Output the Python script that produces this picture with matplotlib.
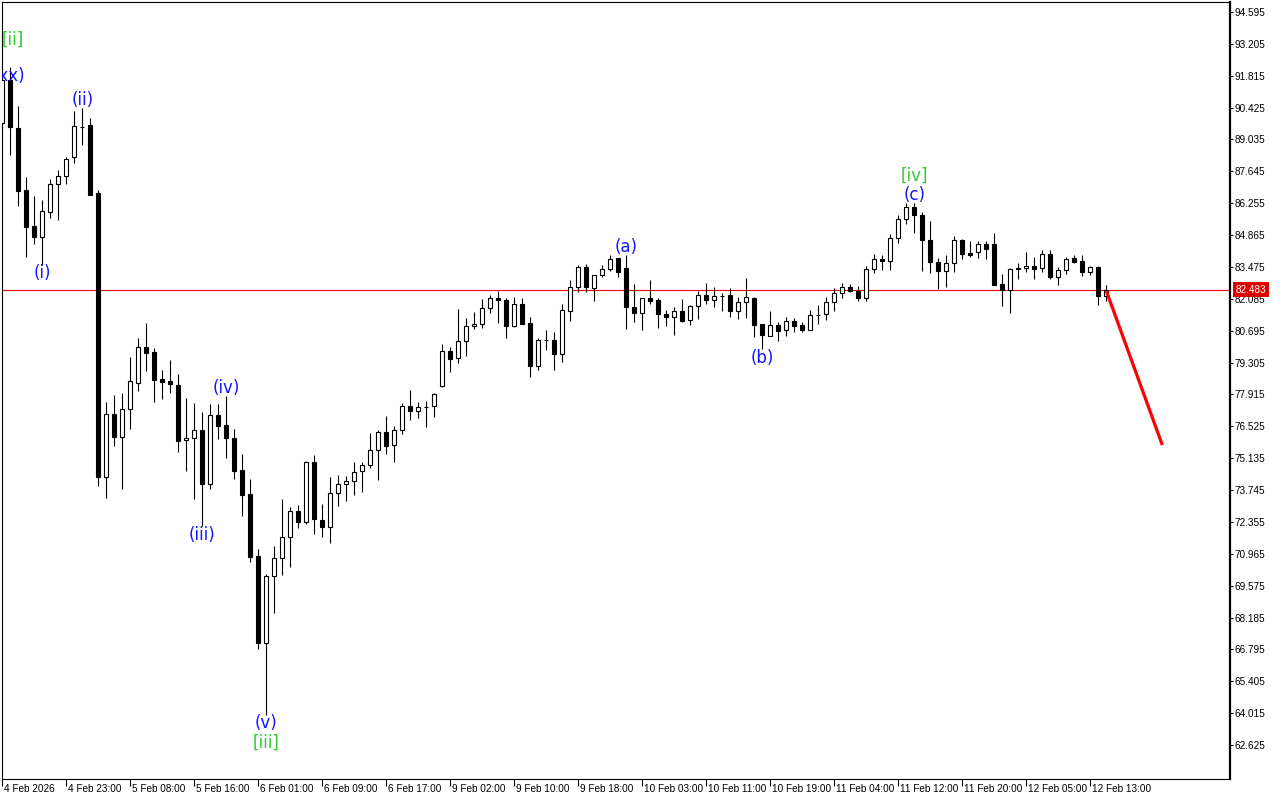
import matplotlib
matplotlib.use('Agg')
import matplotlib.pyplot as plt
from matplotlib import font_manager
from matplotlib.transforms import ScaledTranslation
import numpy as np

# ---------------- data (hourly bars) ----------------
opens = [89.75, 91.63, 89.54, 86.83, 85.26, 84.78, 85.87, 87.09, 87.44, 88.27,
         89.58, 89.67, 86.70, 74.32, 77.06, 76.06, 77.28, 78.41, 79.99, 79.77,
         78.59, 78.50, 78.33, 75.93, 76.02, 76.37, 74.01, 77.02, 76.58, 76.02,
         74.62, 73.58, 70.87, 67.08, 70.00, 70.78, 71.70, 72.83, 72.35, 74.97,
         72.44, 72.14, 73.62, 74.01, 74.14, 74.58, 74.84, 75.49, 76.28, 75.71,
         76.37, 77.41, 77.19, 77.37, 77.41, 78.28, 79.81, 79.50, 80.25, 80.90,
         80.99, 81.69, 82.12, 82.04, 80.90, 81.86, 81.03, 79.16, 80.29, 80.29,
         79.68, 81.55, 82.60, 83.47, 82.56, 83.13, 83.39, 83.87, 83.43, 81.73,
         81.47, 82.12, 82.04, 81.42, 81.29, 81.55, 81.16, 81.77, 82.25, 82.04,
         82.21, 82.25, 81.55, 81.95, 82.12, 80.99, 80.47, 80.94, 80.73, 81.12,
         80.94, 80.73, 81.38, 81.42, 81.95, 82.34, 82.60, 82.43, 82.12, 83.39,
         83.82, 83.73, 84.74, 85.57, 86.09, 85.74, 84.65, 83.69, 83.30, 83.65,
         84.65, 84.08, 84.13, 84.48, 84.48, 82.73, 82.47, 83.43, 83.43, 83.52,
         83.43, 84.04, 83.04, 83.34, 83.87, 83.73, 83.26, 83.47, 82.21]
highs = [91.98, 92.20, 90.50, 87.40, 86.57, 86.40, 87.31, 87.70, 88.27, 90.28,
         90.41, 89.97, 86.83, 77.59, 77.89, 77.98, 79.55, 80.38, 81.03, 79.94,
         78.99, 79.42, 78.81, 77.76, 77.54, 77.15, 77.50, 77.50, 77.85, 76.41,
         75.32, 74.23, 71.18, 70.09, 71.31, 73.36, 73.01, 73.10, 75.01, 75.28,
         73.14, 74.32, 74.40, 74.36, 74.97, 74.97, 76.23, 76.37, 76.98, 76.54,
         77.54, 78.11, 77.59, 77.63, 77.98, 80.12, 79.99, 81.64, 81.25, 81.51,
         82.08, 82.25, 82.43, 82.12, 82.17, 82.12, 81.29, 80.38, 80.73, 80.64,
         81.86, 82.91, 83.56, 83.60, 83.13, 83.56, 83.99, 83.87, 83.99, 82.73,
         82.12, 82.91, 82.12, 81.60, 81.73, 82.08, 81.82, 82.43, 82.78, 82.60,
         82.34, 82.56, 82.17, 82.99, 82.17, 80.99, 81.55, 81.07, 81.29, 81.25,
         81.07, 81.60, 81.82, 82.17, 82.56, 82.78, 82.73, 82.65, 83.52, 84.04,
         83.99, 84.91, 85.74, 86.27, 86.27, 85.87, 85.48, 83.87, 83.99, 84.83,
         84.70, 84.61, 84.61, 84.61, 84.96, 83.17, 83.43, 83.65, 84.13, 83.91,
         84.22, 84.22, 83.47, 83.91, 83.99, 83.99, 83.52, 83.52, 82.69]
lows = [89.45, 88.36, 86.13, 83.91, 84.48, 83.56, 85.61, 85.52, 87.09, 88.01,
        88.79, 86.61, 73.92, 73.40, 75.67, 73.79, 76.41, 78.07, 78.94, 77.59,
        77.72, 77.98, 75.41, 74.58, 73.36, 72.18, 73.79, 75.97, 75.14, 74.23,
        72.62, 70.61, 66.81, 63.94, 68.38, 70.04, 70.39, 72.09, 72.27, 71.83,
        71.70, 71.44, 73.05, 73.27, 73.53, 73.66, 74.71, 74.19, 75.32, 74.97,
        76.19, 76.80, 76.89, 76.50, 76.93, 78.24, 78.89, 79.29, 79.59, 80.77,
        80.81, 81.47, 81.03, 80.38, 80.86, 80.99, 78.68, 78.98, 79.85, 78.99,
        79.33, 81.12, 82.38, 82.38, 81.99, 83.04, 83.30, 83.04, 80.77, 81.07,
        80.73, 81.86, 80.81, 80.90, 80.51, 81.07, 80.94, 81.21, 81.86, 81.73,
        81.55, 81.29, 81.21, 81.25, 80.42, 79.90, 80.47, 80.25, 80.47, 80.64,
        80.64, 80.73, 80.99, 81.16, 81.55, 82.12, 82.38, 81.99, 81.99, 83.21,
        83.34, 83.34, 84.52, 85.35, 84.96, 83.30, 83.21, 82.51, 82.60, 83.26,
        83.82, 83.91, 83.87, 83.82, 82.69, 81.77, 81.47, 82.95, 83.26, 82.95,
        83.26, 82.95, 82.69, 83.17, 83.65, 83.08, 83.13, 81.82, 81.99]
closes = [91.63, 89.58, 86.79, 85.22, 84.78, 85.92, 87.09, 87.44, 88.18, 89.62,
          89.60, 86.61, 74.32, 77.06, 76.06, 77.28, 78.50, 79.99, 79.72, 78.55,
          78.46, 78.37, 75.89, 76.02, 76.37, 74.01, 77.02, 76.54, 76.02, 74.58,
          73.53, 70.83, 67.08, 70.00, 70.78, 71.70, 72.83, 72.35, 74.97, 72.48,
          72.14, 73.62, 74.01, 74.14, 74.53, 74.84, 75.49, 76.28, 75.67, 76.37,
          77.41, 77.19, 77.37, 77.39, 77.94, 79.81, 79.46, 80.25, 80.90, 80.99,
          81.69, 82.12, 82.04, 80.90, 81.86, 80.99, 79.16, 80.29, 80.29, 79.68,
          81.60, 82.60, 83.47, 82.60, 83.13, 83.39, 83.82, 83.26, 81.73, 81.47,
          82.12, 81.99, 81.42, 81.29, 81.55, 81.12, 81.77, 82.25, 82.04, 82.21,
          82.21, 81.55, 81.95, 82.17, 80.94, 80.51, 80.94, 80.68, 81.12, 80.90,
          80.73, 81.38, 81.38, 81.95, 82.34, 82.60, 82.43, 82.12, 83.39, 83.82,
          83.73, 84.74, 85.57, 86.09, 85.74, 84.65, 83.69, 83.30, 83.65, 84.65,
          84.04, 83.99, 84.48, 84.26, 82.69, 82.47, 83.39, 83.39, 83.52, 83.39,
          84.04, 83.04, 83.34, 83.82, 83.69, 83.26, 83.47, 82.21, 82.48]

current_price = 82.483
current_price_label = "82.483"

ytick_labels = ["94.595", "93.205", "91.815", "90.425", "89.035", "87.645",
                "86.255", "84.865", "83.475", "82.085", "80.695", "79.305",
                "77.915", "76.525", "75.135", "73.745", "72.355", "70.965",
                "69.575", "68.185", "66.795", "65.405", "64.015", "62.625"]

xtick_bars = [0, 8, 16, 24, 32, 40, 48, 56, 64, 72, 80, 88, 96, 104, 112, 120, 128, 136]
xtick_labels = ["4 Feb 2026", "4 Feb 23:00", "5 Feb 08:00", "5 Feb 16:00",
                "6 Feb 01:00", "6 Feb 09:00", "6 Feb 17:00", "9 Feb 02:00",
                "9 Feb 10:00", "9 Feb 18:00", "10 Feb 03:00", "10 Feb 11:00",
                "10 Feb 19:00", "11 Feb 04:00", "11 Feb 12:00", "11 Feb 20:00",
                "12 Feb 05:00", "12 Feb 13:00"]

# wave labels: text, bar position, price, colour
wave_text = ["[ii]", "(xx)", "(i)", "(ii)", "(iii)", "(iv)", "(v)", "[iii]",
             "(a)", "(b)", "[iv]", "(c)"]
wave_bar = [1.25, 0.85, 5, 10, 25, 28, 33, 33, 78, 95, 114, 114]
wave_price = [93.37, 91.80, 83.21, 90.76, 71.79, 78.20, 63.57, 62.71,
              84.35, 79.50, 87.46, 86.61]
wave_color = ["#2ecc2e", "#1414ff", "#1414ff", "#1414ff", "#1414ff", "#1414ff",
              "#1414ff", "#2ecc2e", "#1414ff", "#1414ff", "#2ecc2e", "#1414ff"]

arrow_bars = [138, 145]
arrow_prices = [82.43, 75.71]

# ---------------- fonts ----------------
names = {f.name for f in font_manager.fontManager.ttflist}
if 'Liberation Sans Narrow' in names:
    tick_font, tick_size = 'Liberation Sans Narrow', 8.5
else:
    tick_font, tick_size = 'Liberation Sans', 7.2

# ---------------- figure ----------------
fig = plt.figure(figsize=(12.8, 8), dpi=100)
fig.patch.set_facecolor('white')
ax = fig.add_axes([2 / 1280, 21 / 800, 1228 / 1280, 777 / 800])
ax.set_facecolor('white')

n = len(opens)
x = np.arange(n)
o = np.array(opens); h = np.array(highs); l = np.array(lows); c = np.array(closes)

ax.axhline(current_price, color='#ff0000', lw=0.8, zorder=1)

ax.vlines(x, l, h, color='black', lw=0.8, zorder=2)
bull = c >= o
face = np.where(bull, 'white', 'black')
ax.bar(x, np.abs(c - o), bottom=np.minimum(o, c), width=0.5, color=face,
       edgecolor='black', linewidth=0.8, zorder=3)

ax.plot(arrow_bars, arrow_prices, color='#ff0000', lw=2.3,
        solid_capstyle='butt', zorder=6)

for t, b, p, col in zip(wave_text, wave_bar, wave_price, wave_color):
    ax.text(b, p, t, color=col, fontsize=12, ha='center', va='center',
            family='DejaVu Sans', clip_on=True, zorder=7)

ax.set_xlim(-0.04, 153.46)
ax.set_ylim(61.145, 95.031)

# spines
for s in ['left', 'top', 'bottom']:
    ax.spines[s].set_linewidth(0.8)
    ax.spines[s].set_color('black')
ax.spines['right'].set_linewidth(1.6)
ax.spines['right'].set_color('black')

# y axis on right
ax.yaxis.tick_right()
ax.set_yticks([float(v) for v in ytick_labels])
ax.set_yticklabels(ytick_labels)
ax.tick_params(axis='y', direction='out', length=2.5, width=0.8, pad=1,
               labelsize=tick_size, colors='black')
for lab in ax.get_yticklabels():
    lab.set_family(tick_font)

# x axis
ax.set_xticks(xtick_bars)
ax.set_xticklabels(xtick_labels, ha='left')
ax.tick_params(axis='x', direction='out', length=5, width=0.8, pad=-1.5,
               labelsize=tick_size, colors='black')
offset = ScaledTranslation(1.5 / 100, 0, fig.dpi_scale_trans)
for lab in ax.get_xticklabels():
    lab.set_family(tick_font)
    lab.set_transform(lab.get_transform() + offset)

# current price tag
ax.text(1.0045, current_price, current_price_label, transform=ax.get_yaxis_transform(),
        ha='left', va='center', fontsize=tick_size, family=tick_font, color='white',
        bbox=dict(boxstyle='square,pad=0.25', fc='#e00000', ec='none'),
        clip_on=False, zorder=10)

fig.savefig('out.png', dpi=100, facecolor='white')
